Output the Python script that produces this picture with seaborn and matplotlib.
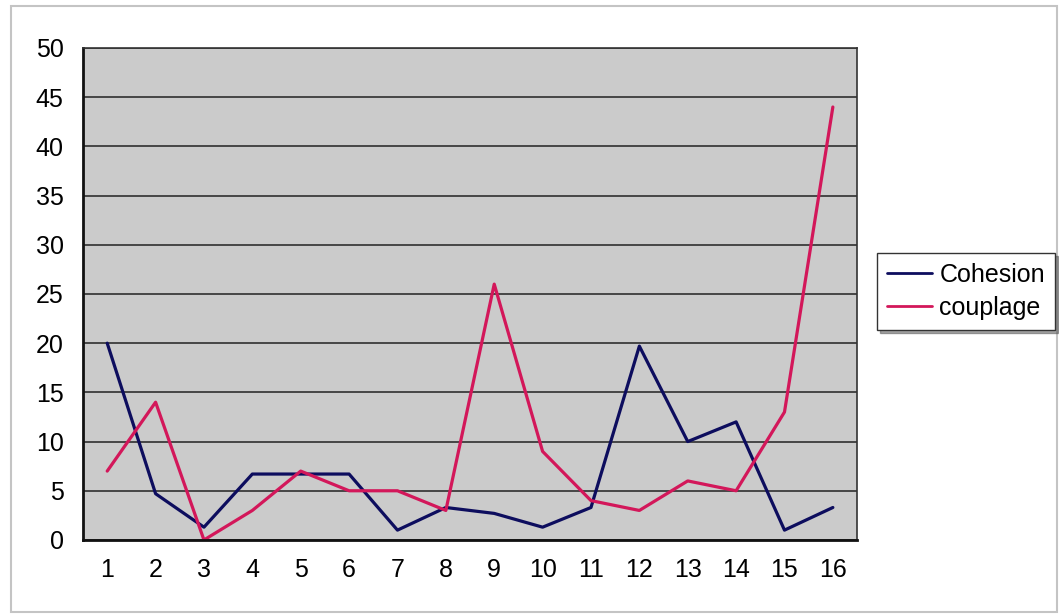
import matplotlib
matplotlib.use("Agg")
import matplotlib.pyplot as plt
from matplotlib.patches import Rectangle
from matplotlib.lines import Line2D
import numpy as np
import pandas as pd
import seaborn as sns

# Per-module metrics
modules = list(range(1, 17))
cohesion = [20, 4.7, 1.3, 6.7, 6.7, 6.7, 1, 3.3, 2.7, 1.3, 3.3, 19.7, 10, 12, 1, 3.3]
couplage = [7, 14, 0, 3, 7, 5, 5, 3, 26, 9, 4, 3, 6, 5, 13, 44]
series_names = ["Cohesion", "couplage"]
y_ticks = [0, 5, 10, 15, 20, 25, 30, 35, 40, 45, 50]

df = pd.DataFrame({
    "module": modules * 2,
    "value": cohesion + couplage,
    "serie": [series_names[0]] * len(modules) + [series_names[1]] * len(modules),
})

sns.set_style("white")
plt.rcParams["font.family"] = ["Liberation Sans", "DejaVu Sans"]
plt.rcParams["text.color"] = "black"

fig = plt.figure(figsize=(10.59, 6.15), dpi=100)
ax = fig.add_axes([0.0784, 0.122, 0.7309, 0.800])
ax.set_facecolor("#cbcbcb")

# light outer frame around the whole chart
fig.patches.append(Rectangle((11 / 1059, 3 / 615), 1046 / 1059, 606 / 615,
                             transform=fig.transFigure, fill=False,
                             edgecolor="#c4c4c4", linewidth=1.5))

palette = {"Cohesion": "#0d0d5e", "couplage": "#d3175a"}
sns.lineplot(data=df, x="module", y="value", hue="serie", palette=palette,
             linewidth=2.3, ax=ax, legend=False)

ax.set_xlim(0.5, 16.5)
ax.set_ylim(0, 50)
ax.set_yticks(y_ticks)
ax.set_xticks(modules)
ax.set_xticklabels([str(m) for m in modules])
ax.set_xticks(np.arange(0.5, 17, 1), minor=True)
ax.tick_params(axis="x", which="major", length=0, pad=13, labelsize=18, labelcolor="black")
ax.tick_params(axis="x", which="minor", length=6, width=1, color="#222222", direction="out")
ax.tick_params(axis="y", length=6, width=1, color="#222222", direction="out", pad=8,
               labelsize=18, labelcolor="black")
ax.grid(axis="y", color="#222222", linewidth=1.1)
ax.set_axisbelow(True)
ax.set_xlabel("")
ax.set_ylabel("")

for side in ["left", "bottom"]:
    ax.spines[side].set_color("#111111")
    ax.spines[side].set_linewidth(2)
for side in ["top", "right"]:
    ax.spines[side].set_color("#333333")
    ax.spines[side].set_linewidth(1.2)

handles = [Line2D([], [], color=palette[s], linewidth=2) for s in series_names]
leg = fig.legend(handles, series_names, loc="upper left",
                 bbox_to_anchor=(877 / 1059, 1 - 253 / 615),
                 frameon=True, fancybox=False, shadow=True, fontsize=18,
                 handlelength=1.8, handletextpad=0.3, borderpad=0.4,
                 labelspacing=0.35, borderaxespad=0)
leg.get_frame().set_edgecolor("#333333")
leg.get_frame().set_linewidth(1)

fig.savefig("out.png", dpi=100, facecolor="white")
